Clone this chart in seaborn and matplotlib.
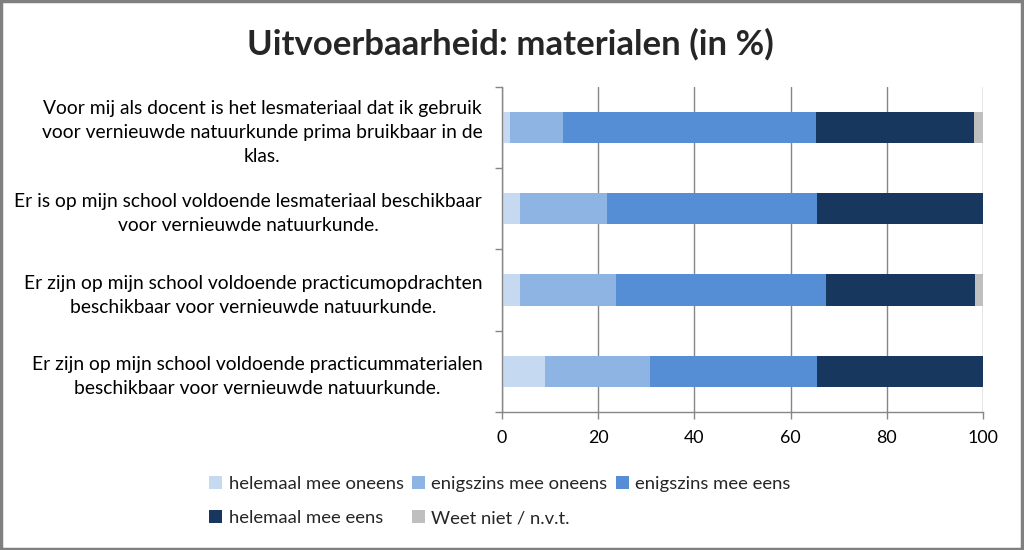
"""
Stacked horizontal bar chart: Uitvoerbaarheid materialen (in %).
Saves out.png at roughly 1024x550.
"""

import matplotlib.pyplot as plt
import numpy as np
import pandas as pd
import seaborn as sns
from matplotlib.patches import Patch, Rectangle

# data
statements = [
    "Voor mij als docent is het lesmateriaal dat ik gebruik\nvoor vernieuwde natuurkunde prima bruikbaar in de\nklas.",
    "Er is op mijn school voldoende lesmateriaal beschikbaar\nvoor vernieuwde natuurkunde.",
    "Er zijn op mijn school voldoende practicumopdrachten\nbeschikbaar voor vernieuwde natuurkunde.",
    "Er zijn op mijn school voldoende practicummaterialen\nbeschikbaar voor vernieuwde natuurkunde.",
]
answers = [
    "helemaal mee oneens",
    "enigszins mee oneens",
    "enigszins mee eens",
    "helemaal mee eens",
    "Weet niet / n.v.t.",
]
helemaal_oneens = [1.8, 3.7, 3.7, 8.9]
enigszins_oneens = [10.9, 18.2, 20.0, 22.0]
enigszins_eens = [52.6, 43.5, 43.7, 34.5]
helemaal_eens = [32.9, 34.6, 30.9, 34.6]
weet_niet = [1.8, 0.0, 1.7, 0.0]

colors = ["#C5D9F1", "#8DB4E2", "#558ED5", "#17375E", "#BFBFBF"]
grid_color = "#868686"

sns.set_theme(style="white")
plt.rcParams["font.family"] = ["Lato", "DejaVu Sans"]

df = pd.DataFrame(
    {
        "statement": statements,
        answers[0]: helemaal_oneens,
        answers[1]: enigszins_oneens,
        answers[2]: enigszins_eens,
        answers[3]: helemaal_eens,
        answers[4]: weet_niet,
    }
)
cum = df[answers].cumsum(axis=1)

fig = plt.figure(figsize=(10.24, 5.5), dpi=100)
ax = fig.add_axes([0.490, 0.251, 0.470, 0.591])

# draw stacked bars back to front: each layer is the cumulative total
for answer, color in reversed(list(zip(answers, colors))):
    sns.barplot(
        x=cum[answer],
        y=df["statement"],
        orient="h",
        color=color,
        width=0.385,
        linewidth=0,
        saturation=1,
        ax=ax,
    )

ax.set_xlim(0, 100)
ax.set_ylim(3.5, -0.5)
ax.set_xticks(np.arange(0, 101, 20))
ax.set_xlabel("")
ax.set_ylabel("")
ax.xaxis.grid(True, color=grid_color, linewidth=1)
ax.set_axisbelow(True)

for side in ["top", "right"]:
    ax.spines[side].set_visible(False)
for side in ["left", "bottom"]:
    ax.spines[side].set_color(grid_color)
    ax.spines[side].set_linewidth(1)

ax.tick_params(axis="x", length=5, width=1, color=grid_color, pad=8,
               labelsize=12.8, labelcolor="black", bottom=True)
ax.tick_params(axis="y", which="major", length=0, pad=14, labelsize=13.9,
               labelcolor="black")
ax.set_yticks(np.arange(-0.5, 4, 1), minor=True)
ax.tick_params(axis="y", which="minor", length=5, width=1, color=grid_color, left=True)
for lbl in ax.get_yticklabels():
    lbl.set_horizontalalignment("right")
    lbl.set_multialignment("center")
    lbl.set_linespacing(1.5)

fig.suptitle("Uitvoerbaarheid: materialen (in %)", x=0.498, y=0.95,
             fontsize=25, fontweight="bold")

# legend laid out row by row like the original (3 columns)
handles = [Patch(facecolor=c, edgecolor="none") for c in colors]
order = [0, 3, 1, 4, 2]
fig.legend(
    [handles[i] for i in order],
    [answers[i] for i in order],
    ncol=3,
    loc="upper left",
    bbox_to_anchor=(0.188, 0.165),
    frameon=False,
    fontsize=13.3,
    handlelength=0.7,
    handleheight=0.7,
    handletextpad=0.35,
    columnspacing=0.45,
    labelspacing=1.0,
)

# grey frame around the whole chart
fig.patches.append(
    Rectangle((0.001, 0.002), 0.997, 0.996, transform=fig.transFigure,
              fill=False, edgecolor="#808080", linewidth=2.5)
)

fig.savefig("out.png", dpi=100)
plt.close(fig)
